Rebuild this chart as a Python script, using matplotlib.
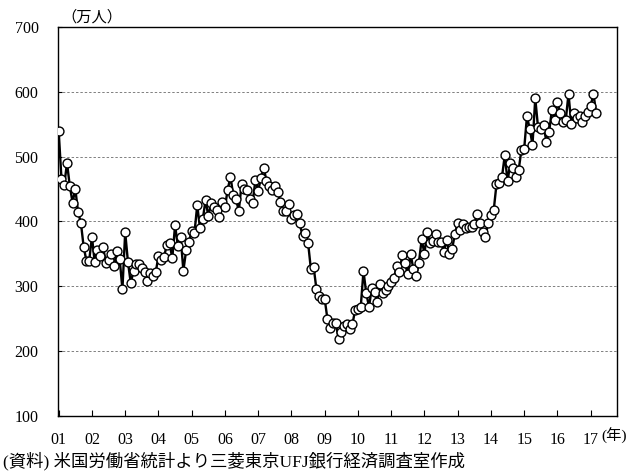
import matplotlib
matplotlib.use("Agg")
import matplotlib.pyplot as plt
import numpy as np

# Monthly values (万人), Jan 2001 - Mar 2017
y2001 = [539, 466, 456, 490, 455, 429, 450, 414, 398, 361, 339, 339]
y2002 = [376, 337, 356, 347, 361, 336, 341, 349, 331, 354, 342, 295]
y2003 = [383, 337, 305, 323, 334, 334, 328, 322, 308, 320, 316, 321]
y2004 = [346, 340, 345, 363, 366, 343, 394, 362, 376, 324, 355, 368]
y2005 = [385, 382, 425, 389, 403, 433, 408, 428, 422, 418, 406, 430]
y2006 = [422, 449, 469, 440, 434, 416, 457, 450, 448, 434, 429, 464]
y2007 = [447, 467, 483, 462, 455, 449, 455, 446, 430, 416, 416, 426]
y2008 = [404, 410, 411, 397, 377, 382, 367, 327, 330, 296, 284, 280]
y2009 = [280, 249, 236, 243, 243, 219, 229, 238, 241, 233, 241, 263]
y2010 = [264, 267, 323, 289, 268, 297, 291, 276, 303, 289, 294, 300]
y2011 = [307, 312, 331, 321, 348, 335, 318, 349, 327, 315, 336, 372]
y2012 = [350, 384, 366, 369, 380, 368, 368, 353, 371, 350, 358, 380]
y2013 = [398, 386, 396, 389, 391, 391, 396, 411, 397, 384, 375, 398]
y2014 = [410, 417, 457, 459, 469, 502, 462, 490, 483, 468, 479, 510]
y2015 = [512, 562, 543, 518, 590, 545, 543, 548, 523, 538, 572, 557]
y2016 = [584, 567, 554, 556, 597, 550, 567, 559, 562, 554, 562, 569]
y2017 = [578, 597, 567]

values = (y2001 + y2002 + y2003 + y2004 + y2005 + y2006 + y2007 + y2008 +
          y2009 + y2010 + y2011 + y2012 + y2013 + y2014 + y2015 + y2016 + y2017)
year_labels = ["01", "02", "03", "04", "05", "06", "07", "08", "09",
               "10", "11", "12", "13", "14", "15", "16", "17"]
y_ticks = [100, 200, 300, 400, 500, 600, 700]

serif_jp = ["Liberation Serif", "Noto Sans CJK JP"]
plt.rcParams["font.family"] = serif_jp

fig = plt.figure(figsize=(6.3, 4.72), dpi=100)
ax = fig.add_axes([58 / 630, 1 - 415.6 / 472, (617 - 58) / 630, (415.6 - 27) / 472])

months = np.arange(len(values))
ax.plot(months, values, color="black", linewidth=1.7, marker="o",
        markersize=6.4, markerfacecolor="white", markeredgecolor="black",
        markeredgewidth=1.0, zorder=3)

ax.set_xlim(-0.25, 201.5)
ax.set_ylim(100, 700)
ax.set_yticks(y_ticks)
ax.set_yticklabels([str(v) for v in y_ticks], fontsize=11.5)
xt = [12 * i for i in range(len(year_labels))]
ax.set_xticks(xt)
ax.set_xticklabels(year_labels, fontsize=11.5)
ax.tick_params(axis="x", direction="in", length=4, width=0.8, pad=12)
ax.tick_params(axis="y", direction="in", length=3, width=0.8, pad=14)

for v in [200, 300, 400, 500, 600]:
    ax.axhline(v, color="#808080", linewidth=0.7, linestyle=(0, (2.5, 2)), zorder=1)

for s in ax.spines.values():
    s.set_color("black")
    s.set_linewidth(1.0)

fig.text(61 / 630, 1 - 17 / 472, "（万人）", fontsize=11, family=serif_jp,
         va="center", ha="left")
fig.text(601 / 630, 1 - 436 / 472, "(年)", fontsize=11, family=serif_jp,
         va="center", ha="left")
fig.text(3 / 630, 1 - 461 / 472, "(資料) 米国労働省統計より三菱東京UFJ銀行経済調査室作成",
         fontsize=12.5, family=serif_jp, va="center", ha="left")

fig.savefig("out.png", dpi=100)
